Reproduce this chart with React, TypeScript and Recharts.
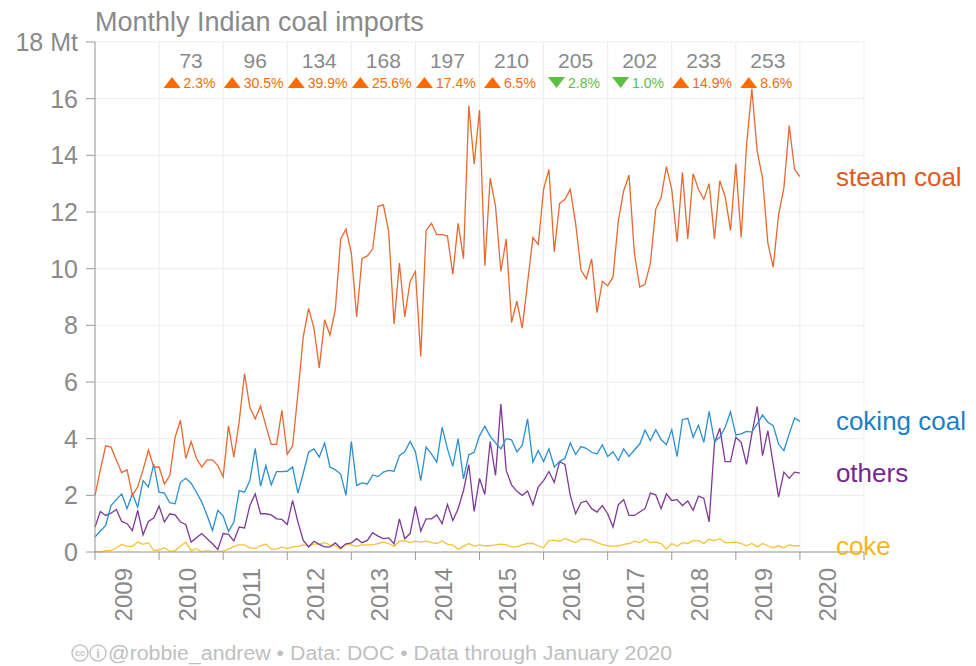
import { LineChart, Line, XAxis, YAxis, CartesianGrid, ReferenceDot } from 'recharts';

const FONT = '"Liberation Sans", Arial, Helvetica, sans-serif';
const GREY = '#8a8a8a';

// monthly imports, Mt, Jan 2009 .. Jan 2020
const steamCoal = [
  2.0, 2.9, 3.75, 3.7, 3.25, 2.8, 2.9, 2.0, 2.3, 2.9, 3.6, 3.0,
  3.0, 2.4, 2.7, 4.05, 4.65, 3.3, 3.9, 3.3, 3.0, 3.25, 3.25, 3.05,
  2.65, 4.45, 3.35, 4.6, 6.3, 5.1, 4.7, 5.15, 4.45, 3.8, 3.8, 5.0,
  3.45, 3.75, 5.6, 7.6, 8.6, 7.9, 6.5, 8.2, 7.65, 8.55, 11.05, 11.4,
  10.55, 8.3, 10.35, 10.45, 10.7, 12.2, 12.25, 11.3, 8.05, 10.2, 8.3, 9.55,
  9.9, 6.9, 11.35, 11.6, 11.2, 11.2, 11.15, 9.8, 11.6, 10.35, 15.75, 13.7,
  15.6, 10.1, 13.2, 12.2, 9.9, 11.05, 8.1, 8.85, 7.9, 9.5, 11.1, 10.85,
  12.8, 13.5, 10.6, 12.3, 12.45, 12.8, 11.6, 9.95, 9.65, 10.35, 8.45, 9.55,
  9.4, 9.7, 11.7, 12.75, 13.3, 10.55, 9.35, 9.45, 10.2, 12.1, 12.5, 13.6,
  12.8, 10.95, 13.4, 11.05, 13.35, 12.8, 12.45, 13.0, 11.05, 13.1, 12.55, 11.35,
  13.7, 11.1, 14.35, 16.35, 14.15, 13.2, 10.9, 10.05, 11.9, 12.85, 15.05, 13.5,
  13.25,
];

const cokingCoal = [
  0.53, 0.74, 0.94, 1.64, 1.85, 2.05, 1.53, 2.05, 1.58, 2.52, 2.29, 3.1,
  2.11, 2.08, 1.74, 1.7, 2.46, 2.6, 2.43, 2.11, 1.76, 1.29, 0.76, 1.47,
  1.27, 0.73, 1.06, 2.17, 2.11, 2.52, 3.66, 2.32, 3.05, 2.37, 2.84, 2.84,
  2.85, 3.0, 2.08, 2.78, 3.52, 3.64, 3.35, 3.85, 3.0, 2.9, 2.75, 2.0,
  3.9, 2.35, 2.44, 2.4, 2.72, 2.66, 2.82, 2.88, 2.85, 3.4, 3.54, 3.9,
  3.54, 2.52, 3.7, 3.46, 3.17, 4.4, 3.64, 3.02, 4.0, 2.58, 3.43, 3.52,
  4.1, 4.44, 4.08, 3.85, 3.64, 4.0, 3.96, 3.54, 3.76, 4.7, 3.17, 3.58,
  3.19, 3.64, 3.0, 3.19, 3.31, 3.85, 3.44, 3.72, 3.66, 3.52, 3.46, 3.78,
  3.37, 3.54, 3.23, 3.64, 3.37, 3.6, 3.81, 4.3, 3.93, 4.32, 3.97, 3.79,
  4.32, 3.37, 4.67, 4.72, 4.05, 4.48, 3.87, 4.96, 3.9, 4.05, 4.4, 4.95,
  4.13, 4.17, 4.26, 4.23, 4.52, 4.84, 4.58, 4.46, 3.81, 3.58, 4.17, 4.73,
  4.61,
];

const others = [
  0.88, 1.43, 1.29, 1.37, 1.5, 1.08, 1.0, 0.76, 1.47, 0.61, 1.08, 1.2,
  1.62, 1.06, 1.35, 1.31, 1.06, 0.97, 0.35, 0.5, 0.65, 0.47, 0.29, 0.09,
  0.65, 0.62, 0.39, 0.88, 0.85, 1.64, 2.05, 1.35, 1.35, 1.31, 1.17, 1.15,
  0.97, 1.82, 1.06, 0.41, 0.18, 0.38, 0.27, 0.18, 0.18, 0.32, 0.14, 0.29,
  0.32, 0.47, 0.33, 0.41, 0.68, 0.56, 0.47, 0.5, 0.29, 1.17, 0.47, 0.65,
  1.61, 0.74, 1.17, 1.17, 1.31, 1.0, 1.68, 1.11, 1.53, 2.17, 3.08, 1.43,
  2.6, 2.03, 3.9, 2.7, 5.22, 2.88, 2.37, 2.14, 2.0, 2.15, 1.67, 2.29,
  2.52, 2.84, 2.46, 3.19, 3.09, 2.0, 1.35, 1.74, 1.8, 1.53, 1.41, 1.64,
  1.35, 0.88, 1.67, 1.85, 1.29, 1.29, 1.41, 1.53, 2.08, 2.02, 1.53, 2.05,
  1.82, 1.85, 1.64, 1.8, 1.47, 1.97, 1.9, 1.06, 3.84, 4.37, 3.19, 3.19,
  4.05, 3.87, 3.09, 4.17, 5.13, 3.4, 4.28, 3.11, 1.94, 2.82, 2.6, 2.82,
  2.78,
];

const coke = [
  0.02, 0.0, 0.05, 0.05, 0.15, 0.27, 0.2, 0.2, 0.35, 0.27, 0.33, 0.06,
  0.07, 0.15, 0.02, 0.05, 0.2, 0.35, 0.05, 0.12, 0.0, 0.05, 0.01, 0.02,
  0.02, 0.1, 0.2, 0.25, 0.25, 0.15, 0.13, 0.22, 0.28, 0.1, 0.1, 0.18,
  0.12, 0.18, 0.2, 0.25, 0.22, 0.28, 0.28, 0.33, 0.25, 0.22, 0.1, 0.27,
  0.25, 0.2, 0.25, 0.25, 0.25, 0.3, 0.35, 0.3, 0.2, 0.38, 0.4, 0.33,
  0.38, 0.35, 0.38, 0.33, 0.3, 0.4, 0.27, 0.25, 0.1, 0.2, 0.3, 0.2,
  0.25, 0.22, 0.22, 0.25, 0.28, 0.25, 0.18, 0.18, 0.25, 0.3, 0.3, 0.22,
  0.15, 0.4, 0.42, 0.38, 0.48, 0.4, 0.33, 0.45, 0.45, 0.42, 0.33, 0.27,
  0.22, 0.2, 0.22, 0.27, 0.3, 0.38, 0.33, 0.45, 0.33, 0.35, 0.3, 0.1,
  0.3, 0.2, 0.33, 0.3, 0.4, 0.4, 0.3, 0.45, 0.4, 0.47, 0.33, 0.33,
  0.35, 0.3, 0.22, 0.3, 0.18, 0.3, 0.22, 0.15, 0.22, 0.15, 0.25, 0.22,
  0.22,
];

const yearLabels = ['2009', '2010', '2011', '2012', '2013', '2014', '2015', '2016', '2017', '2018', '2019', '2020'];
const xTicks = [0, 12, 24, 36, 48, 60, 72, 84, 96, 108, 120, 132, 144];
const yTicks = [0, 2, 4, 6, 8, 10, 12, 14, 16, 18];

// annual totals (Mt) and change on previous year, 2010..2019
const annualYears = [2010, 2011, 2012, 2013, 2014, 2015, 2016, 2017, 2018, 2019];
const annualTotals = [73, 96, 134, 168, 197, 210, 205, 202, 233, 253];
const annualChange = [2.3, 30.5, 39.9, 25.6, 17.4, 6.5, -2.8, -1.0, 14.9, 8.6];

const data = steamCoal.map((v, i) => ({
  m: i,
  steam: v,
  coking: cokingCoal[i],
  others: others[i],
  coke: coke[i],
}));

const LAST = steamCoal.length - 1;
const MONTH_PX = 769 / 144;

function YearTick(props: any) {
  const { x, y, payload } = props;
  const idx = Math.round(payload.value / 12);
  if (idx >= yearLabels.length) return null;
  const cx = x + 6 * MONTH_PX - 4;
  const ty = y + 6;
  return (
    <text
      x={cx}
      y={ty}
      transform={`rotate(-90 ${cx} ${ty})`}
      textAnchor="end"
      dominantBaseline="central"
      fill={GREY}
      fontSize={24}
      fontFamily={FONT}
    >
      {yearLabels[idx]}
    </text>
  );
}

function endLabel(text: string, color: string) {
  return (props: any) => {
    const { x, y, index } = props;
    if (index !== LAST) return null;
    return (
      <text x={x + 36} y={y} dy="0.35em" fill={color} fontSize={26} fontFamily={FONT}>
        {text}
      </text>
    );
  };
}

function annotationShape(total: number, change: number) {
  return (props: any) => {
    const { cx, cy } = props;
    const up = change >= 0;
    const color = up ? '#ff6a00' : '#5cbf3f';
    const txt = `${Math.abs(change).toFixed(1)}%`;
    const tw = txt.length * 7.8 + 4;
    const w = 17 + 3 + tw;
    const left = cx - w / 2;
    const ty = cy + 46;
    const tri = up
      ? `${left},${ty} ${left + 17},${ty} ${left + 8.5},${ty - 11}`
      : `${left},${ty - 11} ${left + 17},${ty - 11} ${left + 8.5},${ty}`;
    return (
      <g>
        <text x={cx} y={cy + 26} textAnchor="middle" fill={GREY} fontSize={21} fontFamily={FONT}>
          {total}
        </text>
        <polygon points={tri} fill={color} />
        <text x={left + 20} y={ty} fill={color} fontSize={14} fontFamily={FONT}>
          {txt}
        </text>
      </g>
    );
  };
}

export default function App() {
  return (
    <div style={{ position: 'absolute', left: 0, top: 0, width: 976, height: 666, background: '#fff' }}>
      <LineChart width={976} height={666} data={data} margin={{ top: 42, right: 112, bottom: 54, left: 0 }}>
        <CartesianGrid stroke="#ededed" />
        <XAxis
          dataKey="m"
          type="number"
          domain={[0, 144]}
          ticks={xTicks}
          interval={0}
          height={60}
          tickSize={8}
          axisLine={{ stroke: '#9a9a9a' }}
          tickLine={{ stroke: '#9a9a9a' }}
          tick={<YearTick />}
        />
        <YAxis
          type="number"
          domain={[0, 18]}
          ticks={yTicks}
          interval={0}
          width={95}
          tickSize={9}
          tickMargin={8}
          axisLine={{ stroke: '#9a9a9a' }}
          tickLine={{ stroke: '#9a9a9a' }}
          tick={{ fill: GREY, fontSize: 25, fontFamily: FONT }}
          tickFormatter={(v) => (v === 18 ? '18 Mt' : String(v))}
        />
        {annualYears.map((yr, k) => (
          <ReferenceDot
            key={yr}
            x={(yr - 2009) * 12 + 6}
            y={18}
            r={0}
            ifOverflow="visible"
            shape={annotationShape(annualTotals[k], annualChange[k])}
          />
        ))}
        <Line
          type="linear"
          dataKey="coke"
          stroke="#f6c236"
          strokeWidth={1.3}
          dot={false}
          isAnimationActive={false}
          label={endLabel('coke', '#f3b817')}
        />
        <Line
          type="linear"
          dataKey="others"
          stroke="#7d3a96"
          strokeWidth={1.3}
          dot={false}
          isAnimationActive={false}
          label={endLabel('others', '#74288f')}
        />
        <Line
          type="linear"
          dataKey="coking"
          stroke="#2b8fd1"
          strokeWidth={1.3}
          dot={false}
          isAnimationActive={false}
          label={endLabel('coking coal', '#1c7fc6')}
        />
        <Line
          type="linear"
          dataKey="steam"
          stroke="#e8692f"
          strokeWidth={1.3}
          dot={false}
          isAnimationActive={false}
          label={endLabel('steam coal', '#e05a1e')}
        />
      </LineChart>
      <svg width={976} height={666} style={{ position: 'absolute', left: 0, top: 0, pointerEvents: 'none' }}>
        <text x={95} y={31} fill={GREY} fontSize={27} fontFamily={FONT}>
          Monthly Indian coal imports
        </text>
        <g stroke="#c4c4c4" strokeWidth={1.4} fill="none">
          <circle cx={80} cy={653} r={8} />
          <circle cx={98} cy={653} r={8} />
        </g>
        <text x={80} y={656} textAnchor="middle" fill="#c4c4c4" fontSize={9} fontFamily={FONT} fontWeight="bold">
          cc
        </text>
        <text x={98} y={658} textAnchor="middle" fill="#c4c4c4" fontSize={13} fontFamily={FONT} fontWeight="bold">
          i
        </text>
        <text
          x={108}
          y={660}
          fill="#c0c0c0"
          fontSize={20}
          fontFamily={'"Liberation Sans Narrow", "Liberation Sans", Arial, sans-serif'}
          textLength={564}
          lengthAdjust="spacingAndGlyphs"
        >
          @robbie_andrew  •  Data: DOC  •  Data through January 2020
        </text>
      </svg>
    </div>
  );
}
